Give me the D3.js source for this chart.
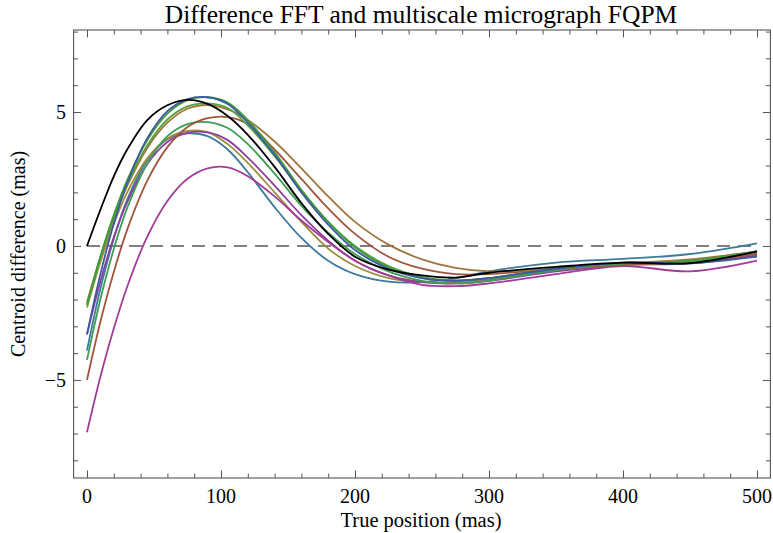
<!DOCTYPE html>
<html><head><meta charset="utf-8">
<script src="https://cdn.jsdelivr.net/npm/d3@7"></script>
<style>body{margin:0;background:#fff}svg{display:block}</style>
</head><body><svg id="c" width="773" height="533"></svg>
<script>
// ---- data ----
const xs = [0,10,20,30,45,60,75,90,105,120,140,160,180,200,225,250,275,300,350,400,450,500];
const black     = [0,1.35,2.6,3.6,4.7,5.25,5.45,5.3,4.85,4.15,2.95,1.6,0.45,-0.4,-0.88,-1.1,-1.18,-1.0,-0.78,-0.62,-0.64,-0.2];
const blue      = [-3.3,-1.05,0.83,2.35,4.02,5.03,5.48,5.55,5.3,4.6,3.4,2.0,0.8,-0.15,-0.85,-1.2,-1.3,-1.2,-0.85,-0.62,-0.65,-0.4];
const green1    = [-2.2,-0.39,1.16,2.46,3.95,4.94,5.44,5.55,5.35,4.7,3.5,2.1,0.9,-0.05,-0.8,-1.2,-1.3,-1.2,-0.85,-0.65,-0.55,-0.2];
const green3    = [-2.2,-0.44,1.06,2.31,3.76,4.72,5.21,5.32,5.15,4.5,3.35,2.05,0.9,0.0,-0.75,-1.15,-1.28,-1.2,-0.85,-0.65,-0.6,-0.2];
const brownOr   = [-2.1,-0.42,1.02,2.24,3.66,4.6,5.12,5.26,5.1,4.7,3.9,2.9,1.85,0.9,0.05,-0.5,-0.82,-0.95,-0.85,-0.65,-0.5,-0.2];
const redBrown  = [-5.0,-2.83,-0.97,0.61,2.44,3.69,4.44,4.77,4.81,4.55,3.6,2.5,1.4,0.45,-0.4,-0.85,-1.05,-1.05,-0.85,-0.7,-0.6,-0.3];
const green2    = [-4.25,-1.99,-0.11,1.42,3.08,4.1,4.55,4.62,4.4,3.8,2.7,1.5,0.5,-0.3,-0.95,-1.3,-1.4,-1.3,-0.9,-0.7,-0.6,-0.25];
const olive     = [-2.3,-0.6,0.83,2.0,3.27,4.01,4.29,4.25,3.8,3.1,2.0,0.9,-0.1,-0.75,-1.2,-1.35,-1.35,-1.25,-0.9,-0.7,-0.55,-0.25];
const purple    = [-3.3,-1.32,0.33,1.64,3.06,3.88,4.22,4.24,3.95,3.3,2.25,1.15,0.2,-0.55,-1.1,-1.35,-1.4,-1.3,-0.95,-0.72,-0.65,-0.35];
const teal      = [-3.9,-1.6,0.27,1.73,3.21,3.98,4.2,4.1,3.6,2.75,1.45,0.3,-0.55,-1.05,-1.33,-1.35,-1.2,-0.95,-0.62,-0.48,-0.3,0.1];
const magenta   = [-6.95,-4.88,-3.08,-1.52,0.35,1.68,2.51,2.9,2.93,2.6,1.85,0.95,0.15,-0.55,-1.1,-1.45,-1.5,-1.4,-1.05,-0.75,-0.95,-0.55];

const seriesNames  = ["teal","olive","purple","magenta","green2","redBrown","brownOr","green3","green1","blue","black"];
const seriesValues = [teal,olive,purple,magenta,green2,redBrown,brownOr,green3,green1,blue,black];
const seriesColors = ["#3d7a9e","#9e8c3d","#8f3da0","#a03d98","#3d9e56","#a0553d","#a0763d","#58a03d","#3d9e3a","#3d5aa0","#000000"];

const xMajor = [0,100,200,300,400,500];
const xMajorLabels = ["0","100","200","300","400","500"];
const yMajor = [-5,0,5];
const yMajorLabels = ["\u22125","0","5"];
const xMinor = [20,40,60,80,120,140,160,180,220,240,260,280,320,340,360,380,420,440,460,480];
const yMinor = [-8,-7,-6,-4,-3,-2,-1,1,2,3,4,6,7,8];
const title = "Difference FFT and multiscale micrograph FQPM";
const xLabel = "True position (mas)";
const yLabel = "Centroid difference (mas)";

// ---- layout ----
const FONT = "'Liberation Serif', 'Times New Roman', Times, serif";
const L = 73.6, R = 770.4, T = 30, B = 478;
const svg = d3.select("#c");
const x = d3.scaleLinear().domain([-10,510]).range([L,R]);
const y = d3.scaleLinear().domain([-8.66,8.06]).range([B,T]);

const line = d3.line().x(d=>x(d[0])).y(d=>y(d[1])).curve(d3.curveCatmullRom.alpha(0.5));

// zero dashed line
svg.append("line").attr("x1",x(0)).attr("x2",x(500)).attr("y1",y(0)).attr("y2",y(0))
  .attr("stroke","#808080").attr("stroke-width",2).attr("stroke-dasharray","13,8");

const g = svg.append("g");
seriesValues.forEach((vals,i)=>{
  g.append("path").datum(xs.map((xv,j)=>[xv,vals[j]]))
    .attr("d",line).attr("fill","none").attr("stroke",seriesColors[i])
    .attr("stroke-width",1.8).attr("stroke-linejoin","round");
});

// frame
const frameCol = "#555";
svg.append("rect").attr("x",L).attr("y",T).attr("width",R-L).attr("height",B-T)
  .attr("fill","none").attr("stroke",frameCol).attr("stroke-width",1.1);

function ticks(axisGen, tr, vals, size){
  const a = svg.append("g").attr("transform",tr)
    .call(axisGen.tickValues(vals).tickSize(size).tickFormat(""));
  a.select(".domain").remove();
  a.selectAll("line").attr("stroke",frameCol).attr("stroke-width",1);
  return a;
}
const MJ = 7.5, MN = 4.5;
ticks(d3.axisBottom(x), `translate(0,${B})`, xMajor, -MJ);
ticks(d3.axisBottom(x), `translate(0,${B})`, xMinor, -MN);
ticks(d3.axisTop(x), `translate(0,${T})`, xMajor, -MJ);
ticks(d3.axisTop(x), `translate(0,${T})`, xMinor, -MN);
ticks(d3.axisLeft(y), `translate(${L},0)`, yMajor, -MJ);
ticks(d3.axisLeft(y), `translate(${L},0)`, yMinor, -MN);
ticks(d3.axisRight(y), `translate(${R},0)`, yMajor, -MJ);
ticks(d3.axisRight(y), `translate(${R},0)`, yMinor, -MN);

function txt(){ return svg.append("text").attr("font-family",FONT).attr("fill","#000"); }

xMajor.forEach((v,i)=>{
  txt().attr("x",x(v)).attr("y",503).attr("text-anchor","middle")
    .attr("font-size",20).text(xMajorLabels[i]);
});
yMajor.forEach((v,i)=>{
  txt().attr("x",66).attr("y",y(v)).attr("dy","0.34em").attr("text-anchor","end")
    .attr("font-size",20).text(yMajorLabels[i]);
});

txt().attr("x",421).attr("y",23).attr("text-anchor","middle").attr("font-size",25.5).text(title);
txt().attr("x",421).attr("y",527).attr("text-anchor","middle").attr("font-size",20.5).text(xLabel);
txt().attr("transform","translate(25,254) rotate(-90)").attr("text-anchor","middle").attr("font-size",20).text(yLabel);
</script></body></html>
